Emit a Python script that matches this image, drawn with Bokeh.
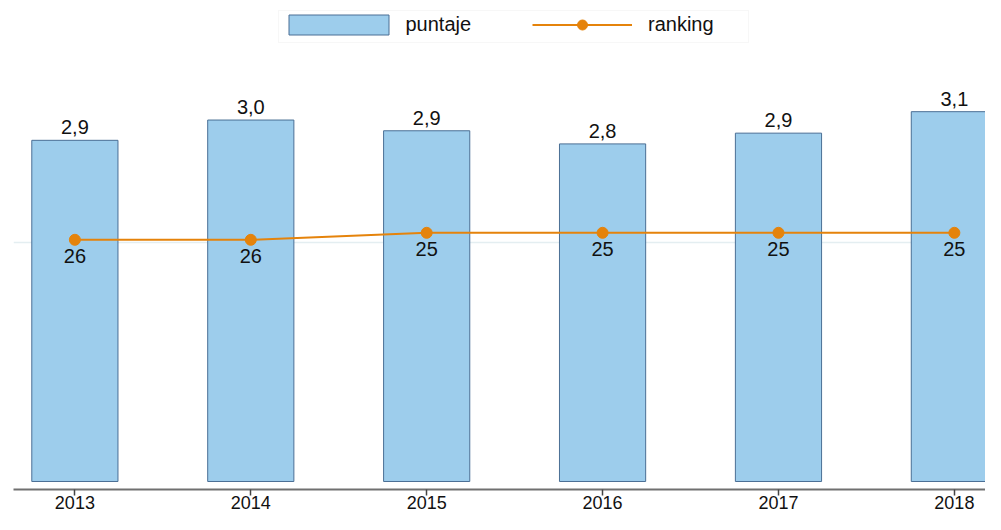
from bokeh.plotting import figure
from bokeh.models import (ColumnDataSource, Range1d, FixedTicker, Legend,
                          LegendItem, BoxAnnotation)
from bokeh.core.properties import value
from bokeh.embed import file_html
from bokeh.resources import INLINE

years = [2013, 2014, 2015, 2016, 2017, 2018]
puntaje = [2.86, 3.03, 2.94, 2.83, 2.92, 3.10]
ranking = [26, 26, 25, 25, 25, 25]
year_labels = [str(y) for y in years]
puntaje_labels = [f"{v:.1f}".replace(".", ",") for v in puntaje]
ranking_labels = [str(r) for r in ranking]

FONT = value("Liberation Sans")
BAR_FILL = "#9DCDEC"
BAR_LINE = "#4A6F95"
ORANGE = "#E5830B"

src = ColumnDataSource(dict(x=years, p=puntaje, r=ranking,
                            pl=puntaje_labels, rl=ranking_labels))

p = figure(width=985, height=514, output_backend="svg", toolbar_location=None,
           x_range=Range1d(2012.651, 2018.177),
           y_range=Range1d(-0.0671, 4.032),
           min_border_left=13, min_border_right=0, min_border_top=0,
           min_border_bottom=25)
p.extra_y_ranges = {"rank": Range1d(start=61.671, end=-8.186)}
p.outline_line_color = None
p.background_fill_color = "white"
p.border_fill_color = "white"

bars = p.vbar(x="x", top="p", bottom=0, width=0.49, source=src,
              fill_color=BAR_FILL, line_color=BAR_LINE, line_width=1)

ln = p.line(x="x", y="r", source=src, y_range_name="rank", line_color=ORANGE,
            line_width=2)
sc = p.scatter(x="x", y="r", source=src, y_range_name="rank", marker="circle",
               size=11, fill_color=ORANGE, line_color=ORANGE)

p.text(x="x", y="p", text="pl", source=src, text_align="center",
       text_baseline="bottom", y_offset=-6, text_font=FONT,
       text_font_size="20px", text_color="#111111")
p.text(x="x", y="r", text="rl", source=src, y_range_name="rank",
       text_align="center", text_baseline="top", y_offset=9, text_font=FONT,
       text_font_size="20px", text_color="#111111")

# axes
p.yaxis.visible = False
p.ygrid.ticker = FixedTicker(ticks=[2])
p.ygrid.grid_line_color = "#E4EEF1"
p.ygrid.grid_line_width = 1.5
p.xgrid.visible = False

xa = p.xaxis[0]
xa.ticker = FixedTicker(ticks=years)
xa.major_label_overrides = {y: l for y, l in zip(years, year_labels)}
xa.axis_line_color = "#707070"
xa.axis_line_width = 2
xa.major_tick_line_color = "#444444"
xa.major_tick_line_width = 1.5
xa.major_tick_out = 6
xa.major_tick_in = 0
xa.minor_tick_line_color = None
xa.major_label_standoff = 0
xa.major_label_text_font = "Liberation Sans"
xa.major_label_text_font_size = "18px"
xa.major_label_text_color = "#111111"

# legend frame (faint box)
p.add_layout(BoxAnnotation(left=265, right=735, top=479, bottom=447,
                           left_units="screen", right_units="screen",
                           top_units="screen", bottom_units="screen",
                           fill_alpha=0, line_color="#E6E6E6", line_width=1))


def make_legend(items, loc, gw, gh, standoff):
    lg = Legend(items=items, location=loc, orientation="horizontal",
                glyph_width=gw, glyph_height=gh, label_standoff=standoff,
                padding=0, margin=0, spacing=0,
                label_text_font="Liberation Sans", label_text_font_size="20px",
                label_text_color="#111111", border_line_color=None,
                background_fill_alpha=0)
    p.add_layout(lg, "center")


make_legend([LegendItem(label="puntaje", renderers=[bars])],
            (262.5, 452.5), 125, 25, 5)
make_legend([LegendItem(label="ranking", renderers=[ln, sc])],
            (519, 452.5), 100, 25, 16)

open("out.html", "w").write(file_html(p, INLINE))
